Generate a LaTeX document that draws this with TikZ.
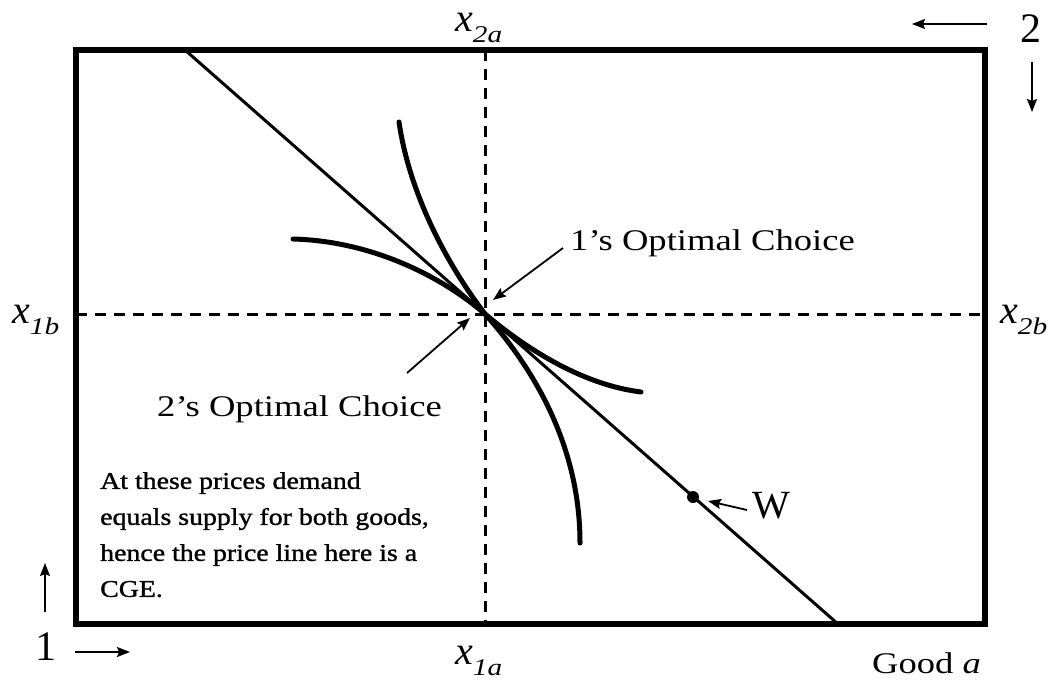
\documentclass[tikz,border=0pt]{standalone}
\usepackage{fontspec}
\setmainfont{Liberation Serif}
\newfontfamily\wf[FakeStretch=1.22]{Liberation Serif}
\newfontfamily\nf[FakeStretch=1.16,FakeBold=1.2]{Liberation Serif}
\usetikzlibrary{arrows.meta}
\newcommand{\xlab}[2]{{\fontsize{40}{40}\selectfont\itshape x}\raisebox{-11pt}{\wf\fontsize{24}{24}\selectfont\itshape #2}}
\begin{document}
\begin{tikzpicture}[x=1pt,y=-1pt,
  frame/.style={line width=6pt},
  price/.style={line width=3pt},
  indiff/.style={line width=5pt,line cap=round},
  guide/.style={line width=3pt,dash pattern=on 11pt off 8pt},
  arr/.style={line width=1.8pt,-{Stealth[length=13pt,width=10pt,inset=2pt]}},
  txt/.style={inner sep=0pt,anchor=base west},
  lbl/.style={txt,font=\wf\fontsize{30}{32}\selectfont}]
\useasboundingbox (0,0) rectangle (1056,685);
% corners
\coordinate (tl) at (76,50);
\coordinate (br) at (985,624);
\coordinate (ptop) at (185,50);
\coordinate (pbot) at (838,624);
\coordinate (opt) at (485,314);
\coordinate (vtop) at (485,50);
\coordinate (vbot) at (485,624);
\coordinate (hl) at (76,314);
\coordinate (hr) at (985,314);
% guides
\draw[guide] (vtop) -- (vbot);
\draw[guide] (hl) -- (hr);
% price line
\draw[price] (ptop) -- (pbot);
% indifference curves
\draw[indiff] (293,239) .. controls (370,241) and (440,275) .. (opt)
                        .. controls (530,352) and (585,385) .. (641,392);
\draw[indiff] (399,122) .. controls (408,185) and (440,255) .. (opt)
                        .. controls (528,362) and (580,440) .. (580,543);
% box
\draw[frame] (tl) rectangle (br);
% W
\node[circle,fill,inner sep=0pt,minimum size=12pt] (w) at (693,497) {};
\node[txt,font=\fontsize{40}{40}\selectfont] (wl) at (752,518) {W};
\coordinate (wt) at (747,510);
\coordinate (wh) at (708,501);
\draw[arr] (wt) -- (wh);
% optimal choice labels
\node[lbl] (one) at (570,250) {1’s Optimal Choice};
\coordinate (onet) at (563,248);
\coordinate (oneh) at (493,300);
\draw[arr] (onet) -- (oneh);
\node[lbl] (two) at (157,416) {2’s Optimal Choice};
\coordinate (twot) at (407,373);
\coordinate (twoh) at (470,318);
\draw[arr] (twot) -- (twoh);
% axis labels
\node[txt] (x2a) at (455,32) {\xlab{x}{2a}};
\node[txt] (x1a) at (455,664) {\xlab{x}{1a}};
\node[txt] (x1b) at (12,323) {\xlab{x}{1b}};
\node[txt] (x2b) at (1000,323) {\xlab{x}{2b}};
\node[txt,font=\wf\fontsize{30}{32}\selectfont] (good) at (872,673) {Good \textit{a}};
% consumer origins
\node[txt,font=\fontsize{42}{42}\selectfont] (c2) at (1020,43) {2};
\node[txt,font=\fontsize{42}{42}\selectfont] (c1) at (35,660) {1};
\coordinate (a2s) at (987,24);
\coordinate (a2e) at (912,24);
\draw[arr] (a2s) -- (a2e);
\coordinate (b2s) at (1032,62);
\coordinate (b2e) at (1032,112);
\draw[arr] (b2s) -- (b2e);
\coordinate (a1s) at (45,612);
\coordinate (a1e) at (45,563);
\draw[arr] (a1s) -- (a1e);
\coordinate (b1s) at (75,652);
\coordinate (b1e) at (130,652);
\draw[arr] (b1s) -- (b1e);
% note
\node[inner sep=0pt,anchor=north west,align=left,font=\nf\fontsize{24}{36}\selectfont] (note) at (100,472)
 {At these prices demand\\equals supply for both goods,\\hence the price line here is a\\CGE.};
\end{tikzpicture}
\end{document}
